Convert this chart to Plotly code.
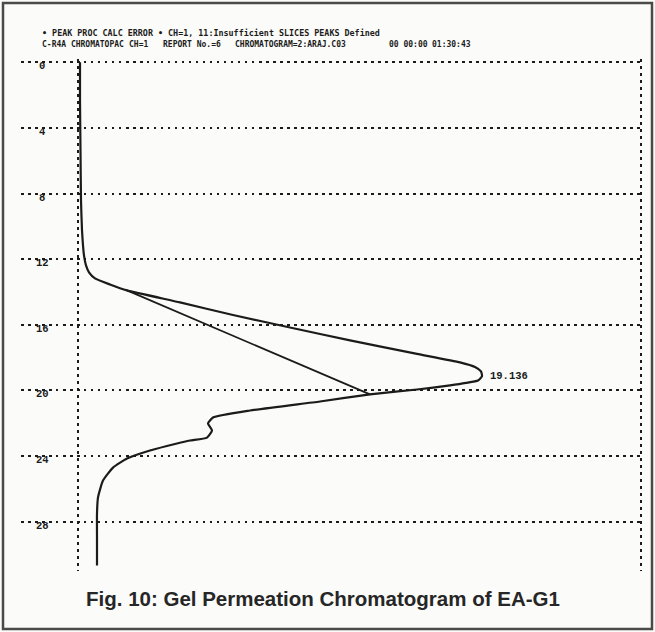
import plotly.graph_objects as go

# ---- data ----
# retention time (min) and detector signal (arbitrary units, baseline = 0)
time_min = [0.0, 2.32, 5.37, 8.41, 10.24, 11.16, 11.77, 12.38, 12.80, 13.17, 13.54,
            13.90, 14.63, 15.40, 16.16, 16.95, 17.77, 18.29, 18.57, 18.84, 19.136,
            19.39, 19.54, 19.69, 19.94, 20.24, 20.67, 21.22, 21.65, 22.01, 22.44,
            22.87, 23.05, 23.23, 23.66, 24.15, 24.70, 25.49, 26.52, 27.50, 28.96,
            30.67]
signal = [0, 0, 0.5, 1, 2, 3, 4, 6, 9, 15, 30,
          47, 100, 153, 210, 270, 337, 380, 395, 401, 402,
          398, 386, 370, 337, 290, 240, 170, 133, 128, 132,
          127, 110, 97, 70, 47, 33, 23, 18, 17, 17,
          17]

# integrator baseline (drop line) drawn under the peak
baseline_time = [13.90, 20.24]
baseline_signal = [47, 290]

peak_time = 19.136
peak_signal = 402
peak_label = "19.136"

tick_vals = [0, 4, 8, 12, 16, 20, 24, 28]
tick_text = ["0", "4", "8", "12", "16", "20", "24", "28"]
grid_x = [-58, -2, 561]

header_1 = "\u2022 PEAK PROC CALC ERROR \u2022 CH=1, 11:Insufficient SLICES PEAKS Defined"
header_2 = [("C-R4A CHROMATOPAC", 40), ("CH=1", 127), ("REPORT No.=6", 161),
            ("CHROMATOGRAM=2:ARAJ.C03", 233), ("00 00:00", 387), ("01:30:43", 430)]
caption = "Fig. 10: Gel Permeation Chromatogram of EA-G1"

# ---- layout geometry ----
W, H = 655, 632
ML, MR, MT, MB = 21, 12, 59, 61
PW = W - ML - MR
PH = H - MT - MB

def px_to_paper_x(px):
    return (px - ML) / PW

def py_to_paper_y(py):
    return (H - MB - py) / PH

ink = "#1b1b1b"
dots = "2.5px,4.5px"

fig = go.Figure()

fig.add_trace(go.Scatter(
    x=baseline_signal, y=baseline_time, mode="lines",
    line=dict(color=ink, width=1.8), hoverinfo="skip", showlegend=False))

fig.add_trace(go.Scatter(
    x=signal, y=time_min, mode="lines",
    line=dict(color=ink, width=2.2, shape="spline", smoothing=0.5),
    showlegend=False))

annotations = []
for v, t in zip(tick_vals, tick_text):
    annotations.append(dict(
        x=-38, y=v, xref="x", yref="y", text="<b>" + t + "</b>",
        showarrow=False, xanchor="center", yanchor="middle", yshift=-4,
        font=dict(family="Liberation Mono", size=10.5, color=ink)))

annotations.append(dict(
    x=peak_signal, y=peak_time, xref="x", yref="y", text="<b>" + peak_label + "</b>",
    showarrow=False, xanchor="left", yanchor="middle", xshift=6,
    font=dict(family="Liberation Mono", size=10.5, color=ink)))

annotations.append(dict(
    x=px_to_paper_x(40), y=py_to_paper_y(33), xref="paper", yref="paper",
    text="<b>" + header_1 + "</b>", showarrow=False, xanchor="left", yanchor="middle",
    font=dict(family="DejaVu Sans Mono", size=8.4, color=ink)))
for txt, xp in header_2:
    annotations.append(dict(
        x=px_to_paper_x(xp), y=py_to_paper_y(44), xref="paper", yref="paper",
        text="<b>" + txt + "</b>", showarrow=False, xanchor="left", yanchor="middle",
        font=dict(family="DejaVu Sans Mono", size=8.0, color=ink)))

annotations.append(dict(
    x=px_to_paper_x(323), y=py_to_paper_y(598), xref="paper", yref="paper",
    text="<b>" + caption + "</b>", showarrow=False, xanchor="center", yanchor="middle",
    font=dict(family="Liberation Sans", size=20.5, color="#262626")))

shapes = [dict(
    type="rect", xref="paper", yref="paper",
    x0=px_to_paper_x(3), x1=px_to_paper_x(652),
    y0=py_to_paper_y(629), y1=py_to_paper_y(3),
    line=dict(color="#4a4a4a", width=2.5), fillcolor="rgba(0,0,0,0)", layer="below")]

fig.update_layout(
    width=W, height=H,
    margin=dict(l=ML, r=MR, t=MT, b=MB),
    paper_bgcolor="#fbfbf9", plot_bgcolor="#fbfbf9",
    xaxis=dict(range=[-59, 563], showticklabels=False, ticks="", zeroline=False,
               showline=False, tickmode="array", tickvals=grid_x,
               showgrid=True, gridcolor=ink, gridwidth=2, griddash=dots),
    yaxis=dict(range=[31, -0.2], showticklabels=False, ticks="", zeroline=False,
               showline=False, tickmode="array", tickvals=tick_vals,
               showgrid=True, gridcolor=ink, gridwidth=2, griddash=dots),
    annotations=annotations, shapes=shapes,
    showlegend=False,
)

fig.write_html("out.html")
